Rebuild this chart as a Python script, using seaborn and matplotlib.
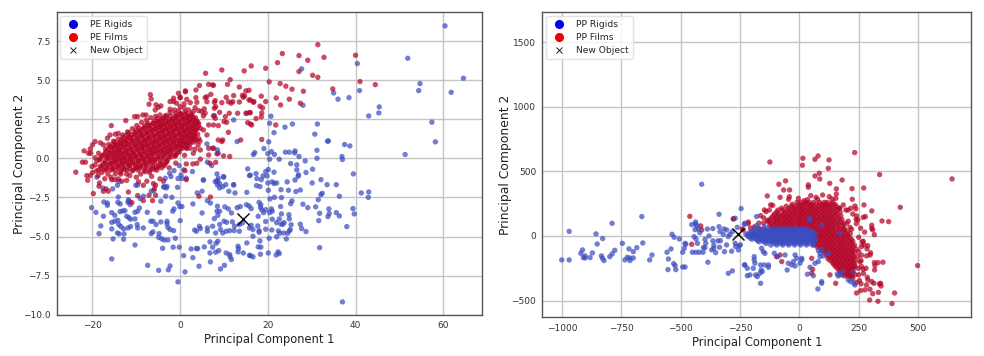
import matplotlib
matplotlib.use("Agg")
import matplotlib.pyplot as plt
from matplotlib.lines import Line2D
import pandas as pd
import seaborn as sns

pe_rigids = [(60.4,8.48),(51.9,6.41),(40.4,6.07),(27.7,5.73),(64.6,5.13),(54.7,4.79),(54.4,4.34),(61.8,4.23),(40.9,4.34),(35,4.19),(36,3.79),(38.5,3.89),(28,3.4),(45.4,3.3),(45.3,2.91),(43,2.72),(20.7,2.7),(57.4,2.32),(20.4,2.25),(25.6,2.2),(23.9,2),(31.3,2.2),(21.4,1.65),(30.7,1.55),(33.8,1.12),(33.6,1.1),(58.2,1.06),(20.2,1.06),(37.5,.89),(38.7,.8),(19.1,.63),(31.2,.52),(26.2,.48),(20.8,.44),(24,.4),(24.9,.4),(26.1,.35),(17,.37),(16.7,.25),(20,.31),(21.5,.25),(51.3,.25),(27.1,.12),(36.9,.12),(31.2,.01),(37,-.07),(20.4,-.05),(22.6,-.05),(28.5,-.16),(25.2,-.33),(26.6,-.41),(30.2,-.69),(26.6,-.73),(20.1,-.71),(19.5,-.84),(21.4,-.88),(28.7,-.9),(17.3,-.97),(16,-1.07),(18.9,-1.12),(19.8,-1.12),(27,-1.05),(26.9,-1.14),(39.5,-.99),
(17.5,-1.29),(18.5,-1.36),(20,-1.57),(21,-1.5),(21.4,-1.6),(22,-1.57),(24.4,-1.5),(26.2,-1.38),(30.1,-1.57),(32.1,-1.36),(33.5,-1.68),(35.6,-1.68),(17.4,-1.74),(18.2,-1.8),(20.1,-2.04),(23,-2),(24.7,-2.04),(26.4,-2.12),(27.4,-2.02),(32.4,-2.23),(32.1,-2.32),(36.3,-2.42),(41.3,-2.21),(43,-2.15),(42.9,-2.49),(20.5,-2.59),(21.5,-2.49),(23.1,-2.51),(25.5,-2.72),(25.2,-2.89),(31.5,-2.64),(28,-2.93),(29.1,-3.15),(30.9,-3.1),(33.9,-3.23),(18,-2.81),(18.4,-2.96),(18.3,-3.13),(22.9,-3.08),(19.5,-3.28),(20.8,-3.23),(21,-3.38),(20.4,-3.47),(18.6,-3.28),(19,-3.47),(16.2,-3.21),(39.4,-3.21),(39.7,-3.55),(35.6,-3.47),(36.3,-3.68),(31.8,-3.51),(34,-3.53),(33.7,-3.72),(31.6,-3.98),(23.1,-3.55),(24.8,-3.6),(24.9,-3.87),(17.8,-3.7),(21,-3.89),(22.6,-3.87),(19.5,-4.04),(22,-4.11),(23.7,-4.11),(23,-4.21),(23.4,-4.21),(25.3,-4.24),(27.4,-4.21),(38,-4.36),(17.7,-4.32),(16.2,-4.28),(19.5,-4.53),(20.9,-4.58),(22.4,-4.64),(25.1,-4.55),(24.9,-4.64),(27.7,-4.49),(28.7,-4.68),(16.6,-4.55),(18,-4.62),(18,-4.73),(22.7,-4.79),(23.6,-4.77),(24.5,-4.79),(16.6,-4.98),(20.3,-5.11),(22,-5.02),(24.2,-5.15),(18.2,-5.28),(17.8,-5.66),(18.4,-5.68),(31.8,-5.71),(20.1,-6.05),(22.3,-5.98),(22.6,-6.09),(21.9,-6.18),(18.3,-6.13),(16.6,-6.3),(16,-6.22),(37,-9.18),
(-20.2,-3.15),(-19.2,-3.45),(-17.5,-3.7),(-18.1,-4.32),(-18.5,-4.81),(-15.6,-4.51),(-15.3,-5.15),(-15.6,-6.43),(-17.4,-2.79),(-16.6,-2.85),(-16.6,-3),(-14.1,-2.47),(-14.2,-2.81),(-13.7,-2.91),(-15.6,-3.47),(-14.9,-3.64),(-13.7,-3.4),(-13.1,-3.36),(-12.6,-3.34),(-11.8,-2.64),(-11.6,-2.74),(-11.9,-2.81),(-11.4,-2.96),(-15.6,-4.09),(-14.9,-4.02),(-14.2,-3.96),(-14,-4.23),(-13.5,-4.36),(-14.3,-4.77),(-13.9,-4.83),(-12.9,-4.51),(-12.8,-4.83),(-12.9,-5.17),(-12.2,-3.7),(-11.7,-3.79),(-11.3,-3.89),(-10.3,-3.87),(-10.3,-3.45),(-9.7,-3.38),(-9.3,-3.17),(-11.9,-4.45),(-11.3,-4.36),(-9.8,-4.23),(-9.7,-4.45),(-8.4,-4.45),(-10.3,-5.54),(-7.5,-3.45),(-6.7,-4.02),(-6.2,-4.02),(-5.5,-4.23),(-6.2,-4.7),(-6.6,-4.81),(-4.7,-3.47),(-4.4,-4.06),(-3,-4.02),(-3,-4.17),(-2.8,-4.41),(-2.3,-4.55),(-1.5,-4.62),(-4.8,-4.81),(-4.9,-5.05),(-4.2,-5.15),(-3.6,-5.22),(-2.8,-5.22),(-1.1,-5.11),(-4,-5.75),(-1.6,-5.68),(-.2,-5.68),(.8,-6.22),(-7.4,-6.84),(-4.9,-7.16),(-2.3,-6.88),(-2.7,-7.13),(1.1,-7.26),(-.5,-7.9),(0,-3.98),(-1.4,-3.23),(-1.7,-3.38),(-.5,-2.85),(-.1,-3.08),(.4,-3.08),(-1.9,-2.49),(-3.3,-2.42),(-4.4,-2.74),(-6.6,-2.1),(-6,-2.06),(-8.4,-2.42),(-9.1,-2.57),(-3.2,-1.89),(-3.8,-1.83),(-.6,-1.85),(-10.1,-1.72),(-14.3,-1.72),(-15.4,-1.95),(2.9,-2.91),(5,-3.49),(7.8,-3.85),(6.2,-2.7),(6.9,-2.85),(8.5,-3.06),(8.4,-3.38),(9,-3.38),(8.6,-3.64),(10.2,-3.1),(11,-3.23),(11.7,-3.49),(13,-3.15),(13.7,-3.08),(15.1,-2.96),(15.7,-3.04),(3.9,-2.21),(5,-2.1),(9,-1.89),(8.4,-1.51),(9,-1.61),(10.4,-1.68),(11.1,-2.1),(12.5,-2.21),(15.2,-2.17),(12.2,-1.68),(3.3,-4.58),(3.7,-4.66),(4.4,-4.34),(4.6,-4.49),(6.2,-4.45),(6.2,-4.66),(7.4,-4.34),(8.1,-4.77),(9,-4.23),(10,-4.02),(10.6,-4.09),(9.2,-4.55),(9.7,-4.77),(10.5,-4.66),(11.3,-4.62),(12.3,-4.62),(11.9,-4.06),(12.4,-4.34),(13.5,-4.23),(14.2,-4.13),(13.5,-4.66),(15.8,-4.45),(6.8,-5.34),(8.6,-5.3),(8.2,-5.43),(5.5,-5.66),(2.5,-5.79),(3.7,-5.77),(4,-5.77),(7.4,-5.68),(6.8,-6.05),(8.1,-6),(8.8,-5.9),(2.9,-6.35),(4.3,-6.9),(6.9,-6.62),(9.2,-7.07),(10.1,-6.84),(10.5,-6.05),(11.3,-6.15),(11.7,-6.47),(11.4,-6.3),(13.2,-5.62),(13.3,-5.77),(13.2,-5.98),(14.4,-6.05),(15.2,-5.41),(15.8,-6.2),(-.5,-1.29),(.4,-1.29),(5.3,-1.38),(8.5,-1.42),
(6.1,.93),(7.4,.65),(8.5,.55),(8.7,.33),(6.2,-.24),(7.2,-.46),(8.4,-.99),(9.9,-1.16),(-.2,-.46),(-1.4,-.78),(-2.4,-.95),(.8,-.73),(2.8,-.84),(-2.1,-1.16),(7.8,2.74),(12.2,2.46),(15.2,2.89),(13,1.08),(1.5,.65),(15.4,-.67),(15.8,-1.1),(8.7,-1.27),(9.9,-1.2),(12.2,-1.7),(8,-1.48),(8.5,-1.7),(9.7,-1.8),(5.3,-1.38),(1.4,-1.27),(.2,-1.06),(-3.4,-1.27),(-14,-1.48),(-9.7,-1.7),(-3.6,-1.8),(-3,-1.8),(-17.6,-1.9),(-19,-1.2),(-4.6,2.2),(-8.5,.8)]

pe_films = [(31.4,7.28),(23.3,6.71),(27.1,6.58),(40,6.6),(29.1,6.28),(32.8,6.47),(22.2,6.13),(16.2,5.92),(19.5,5.77),(27.1,5.56),(30.2,5.32),(31.4,5.19),(20.3,4.9),(41,4.92),(44.5,4.72),(22.8,4.79),(24.1,4.62),(25.5,4.43),(28.1,4.3),(34.8,4.45),(18.5,3.98),(21.9,3.87),(24.9,3.79),(27.4,3.53),(19.5,3.64),(16.8,3.64),(16,3.74),(22.9,3.42),(18.2,3.34),(18.8,3.23),(18.6,2.91),(18.5,2.66),(17.3,2.55),(16,2.93),(16.3,2.14),(21.8,2.14),(18.6,1.21),
(5.8,5.45),(9.5,5.66),(11.4,5.04),(14.6,5.6),(10.8,4.74),(13.5,4.57),(6.5,4.74),(7.4,4.7),(7.6,4.68),(4.4,4.66),(3.6,4.38),(1.2,4.27),(7,4.1),(6.1,3.95),(5.7,3.89),(3.6,3.89),(1.5,3.78),(0,3.91),(10.5,3.91),(12.2,4.02),(14.2,4.04),(14.7,4),(15.7,4.36),(15,4.32),(14.4,3.91),(12,3.63),(11,3.63),(11.6,3.53),(9.5,3.57),(8,3.7),(7.8,3.59),(13.5,3.61),(15.7,3.74),(16.7,3.59),(6.1,3.63),(3.8,3.59),(3.4,3.25),(2.3,3.57),(.9,3.49),(0,3.31),(8.1,3.31),(7.8,3.21),(9,2.95),(11.2,2.89),(13.1,2.89),(15,2.89),(15.8,2.93),(5.5,3.17),(4.9,3),(4.2,3.06),(5.7,2.89),(3,3),(1.9,3.1),(.9,3.21),(7.6,2.72),(10.3,2.68),(8,2.57),(5.3,2.72),(10.6,2.31),(10,2.36),(15.4,2.29),(16,2.21),(11,1.67),(8.7,2.1),(7.6,2.14),(6.5,2.14),(5.3,1.82),(6.1,1.5),(4.2,2.25),(4.6,1.93),(13.8,1.18),(8.7,1.18),(9.7,1.18),(9.5,1.08),(7.6,.65),(6.5,.65),(4.6,.54),(3.4,.59),(2.3,.65),(3,.33),(1.5,.65),(6.5,.22),(8.4,.29),(9.9,.16),(11.3,.12),(4.6,-.05),(1.4,-.35),(8.1,-.25),(6.8,-.31),(3.8,-.31),(2.9,-.35),(1.1,-.78),
(-21.1,-1.4),(-18.4,-1.57),(-19.8,-2.25),(-18.5,-1.78),(-17.5,-2.1),(-16.9,-1.95),(-16.4,-2.1),(-15.6,-1.36),(-14.9,-1.36),(-14.1,-1.31),(-13.3,-1.46),(-12.2,-1.4),(-11.8,-2.15),(-11,-2.83),(-9.7,-2.38),(-8.4,-2.7),(-8.4,-1.72),(-7.6,-1.46),(-7.1,-2.36),(-6.3,-2.7),(-5.6,-2.36),(-6.1,-1.61),(-5.6,-1.72),(-5.9,-1.93),(-4.6,-1.31),(-3.8,-1.46),(1.4,-1.36),(4.3,-2.42),(6.9,-2.47),
(-6.8,4.08),(-6.6,3.81),(-7.1,3.47),(-5.5,3.43),(-5,3.27),(-4.4,3.36),(-5.7,3.1),(-12.4,2.42),(-15.7,2.1),(-10.4,2.68),(-9.7,2.68),(-8.5,2.78),(-7.8,2.78),(-4.6,2.78),(-2.3,3.15),(-1.5,3.85),(-.4,4.17),(0,3.89),(1.2,4.32),(-1.5,3.64),(-2.3,3.64),(-.8,3.53),(-19.4,1.08),(-20,.87),(-20.5,.61),(-21.9,.48),(-22.3,-.24),(-21.6,-.24),(-23.8,-.88),(-20.9,.33),(-20.4,.33),(-19.4,.05),(-18.6,.33),(-20.1,-.52),(-19.4,-.42),(-21.3,-1.1),(-20.5,-1.1),(-18.2,1),(-17.5,.87),(-16.6,1.29),(-16,1.5),(-14.8,1.55),(-14.1,1.6),
(-20,-.9),(-19.1,-.8),(-18.7,-1.1),(-18.2,-.5),(-18.4,-.1),(-17.9,-.9),(-17.6,.2),(-17.4,-.3),(-17.2,-1.3),(-17,.6),(-16.9,-.7),(-16.7,.05),(-16.5,-1),(-16.3,.9),(-16.2,.35),(-16,-.35),(-15.8,-1.2),(-15.6,.7),(-15.5,.1),(-15.4,-.7),(-15.2,1.1),(-15,.4),(-14.9,-.2),(-14.8,-1),(-14.6,.85),(-14.4,.15),(-14.3,-.5),(-14.1,1.25),(-14,.55),(-13.9,-.1),(-13.7,-.9),(-13.6,.95),(-13.4,.3),(-13.3,-.35),(-13.1,1.5),(-13,.75),(-12.9,.05),(-12.7,-.7),(-12.6,1.15),(-12.4,.45),(-12.3,-.2),(-12.2,-1),(-12,1.7),(-11.9,.9),(-11.8,.2),(-11.6,-.45),(-11.5,1.35),(-11.3,.6),(-11.2,-.05),(-11,-.8),(-10.9,1.9),(-10.8,1.1),(-10.7,.35),(-10.5,-.3),(-10.4,1.55),(-10.2,.8),(-10.1,.1),(-10,-.6),(-9.9,2.1),(-9.7,1.3),(-9.6,.55),(-9.5,-.15),(-9.3,1.75),(-9.2,1),(-9.1,.25),(-8.9,-.5),(-8.8,2.3),(-8.7,1.45),(-8.5,.7),(-8.4,0),(-8.3,1.95),(-8.1,1.15),(-8,.4),(-7.9,-.3),(-7.7,2.45),(-7.6,1.65),(-7.5,.85),(-7.3,.15),(-7.2,2.1),(-7.1,1.3),(-6.9,.55),(-6.8,-.15),(-6.7,2.6),(-6.5,1.8),(-6.4,1),(-6.3,.3),(-6.1,2.25),(-6,1.45),(-5.9,.7),(-5.7,-.05),(-5.6,2.7),(-5.5,1.95),(-5.3,1.15),(-5.2,.45),(-5.1,2.35),(-4.9,1.6),(-4.8,.85),(-4.7,.1),(-4.5,2.05),(-4.4,1.3),(-4.3,.55),(-4.1,2.5),(-4,1.75),(-3.9,1),(-3.7,.3),(-3.6,2.2),(-3.5,1.45),(-3.3,.7),(-3.2,2.75),(-3.1,1.9),(-2.9,1.15),(-2.8,.45),(-2.7,2.35),(-2.5,1.6),(-2.4,.85),(-2.3,2.95),(-2.1,2.05),(-2,1.3),(-1.9,.6),(-1.7,2.5),(-1.6,1.75),(-1.5,1),(-1.3,3.1),(-1.2,2.2),(-1.1,1.45),(-.9,.75),(-.8,2.7),(-.7,1.9),(-.5,1.15),(-.4,3.05),(-.3,2.35),(-.1,1.6),(0,.9),(.1,2.85),(.3,2.05),(.4,1.3),(.5,.65),(.7,2.55),(.8,1.75),(.9,1.05),(1.1,2.95),(1.2,2.2),(1.3,1.45),(1.5,.95),(1.6,2.65),(1.7,1.85),(1.9,1.2),(2,2.35),(2.1,1.55),(2.3,.95),(2.4,2.75),(2.5,2),(2.7,1.3),(2.8,2.45),(2.9,1.7),(3.1,1.05),(3.2,2.15),(3.3,1.4),(3.5,2.6),(3.6,1.85),(3.7,1.15),(3.9,2.3),(4,1.55),(4.1,.85),(4.3,1.25),(4.5,1.1),
(-13.5,-1),(-11.5,-1.1),(-10,-1.2),(-9,-1),(-8,-.85),(-7,-.9),(-6,-.7),(-5,-.55),(-4,-.4),(-3,-.2),(-2,.1),(-1,.2),(-1,-.3),(-.2,.4),(-6.5,-1.15),(-9.5,-1.5),(-2.5,-.6),(1,.2)]

# dense core of the PE films cloud, read row by row: pc2 -> pc1 values
pe_films_core = {
    -0.75: [-18.6,-17.3,-15.9,-14.7,-13.4,-12.1,-10.7,-9.6,-8.2,-6.9,-5.3],
    -0.6: [-18,-16.7,-15.4,-14.1,-13,-11.6,-10.3,-9.2,-7.8,-6.6,-5.6,-4.2],
    -0.45: [-17.7,-16.5,-15.3,-13.9,-12.7,-11.5,-10.1,-9,-7.7,-6.3,-4.9,-3.6],
    -0.3: [-17,-15.7,-14.5,-13.2,-12,-10.9,-9.6,-8.3,-7.1,-5.9,-4.6,-3.3],
    -0.15: [-19,-17.1,-15.8,-14.6,-13.3,-12,-10.9,-9.5,-8.3,-7,-5.8,-4.4,-3.1],
    0.0: [-18.2,-16.4,-15.1,-13.8,-12.7,-11.4,-10.1,-8.8,-7.7,-6.4,-5.2,-3.9,-2.7],
    0.15: [-17.9,-16.6,-15.2,-14,-12.6,-11.4,-10.3,-8.9,-7.6,-6.5,-5.1,-3.8,-2.6,-1.2],
    0.3: [-17.2,-15.9,-14.6,-13.4,-12.2,-10.9,-9.7,-8.4,-7.1,-5.9,-4.7,-3.4,-2.2,-.9],
    0.45: [-16.9,-15.6,-14.3,-13.2,-11.8,-10.6,-9.3,-8.1,-6.8,-5.7,-4.3,-3,-1.9,-.6],
    0.6: [-16.3,-15,-13.8,-12.5,-11.3,-10,-8.8,-7.5,-6.3,-5.1,-3.9,-2.6,-1.4,-.1],
    0.75: [-16,-14.8,-13.6,-12.3,-11,-9.8,-8.7,-7.3,-6.1,-4.9,-3.6,-2.3,-1,.2,1.2],
    0.9: [-15.3,-14.2,-12.9,-11.7,-10.4,-9.2,-8,-6.8,-5.6,-4.4,-3.1,-1.9,-.6,.6,1.8],
    1.05: [-14.9,-13.7,-12.5,-11.3,-10,-8.8,-7.6,-6.4,-5.3,-3.9,-2.8,-1.5,-.2,1,2.3],
    1.2: [-13.4,-12.2,-11,-9.7,-8.4,-7.3,-6.1,-4.8,-3.6,-2.4,-1.2,.1,1.2,2.5,3.4],
    1.35: [-13,-11.8,-10.6,-9.3,-8.1,-7,-5.7,-4.5,-3.3,-2.1,-.9,.4,1.6,2.8],
    1.5: [-12.2,-11.1,-9.8,-8.6,-7.4,-6.2,-5,-3.7,-2.5,-1.4,-.1,1.1,2.2,3.4],
    1.65: [-11.7,-10.3,-9.1,-7.9,-6.7,-5.4,-4.2,-3,-1.8,-.5,.7,1.9,3.1],
    1.8: [-10.1,-8.8,-7.5,-6.3,-5.1,-3.9,-2.7,-1.4,-.2,1,2.2,3.5],
    1.95: [-9.4,-8.2,-7,-5.8,-4.6,-3.4,-2.2,-1,.3,1.5,2.7,3.9],
    2.1: [-8,-6.8,-5.5,-4.3,-3.1,-1.8,-.6,.6,1.8,3,4.2],
    2.25: [-7.4,-6.2,-5,-3.8,-2.6,-1.4,-.2,1,2.2,3.4],
    2.4: [-5.8,-4.6,-3.3,-2.1,-.9,.3,1.5,2.7,3.8],
    2.55: [-5.2,-4,-2.9,-1.6,-.4,.8,2,3.1],
    2.7: [-3.4,-2.2,-.9,.4,1.7,2.8],
    2.85: [-1.1,.1,1.3,2.5],
}

new_object_pe = (14.3, -3.85)

pp_rigids = [(-411,400),(-969,36),(-856,16),(-788,98),(-663,150),(-828,-20),(-851,-62),(-913,-108),(-920,-134),(-871,-131),(-777,-111),(-788,-139),(-798,-160),(-902,-154),(-909,-167),(-902,-170),(-881,-167),(-833,-154),(-829,-172),(-822,-190),(-1000,-185),(-969,-185),(-745,-57),(-717,-100),(-684,-90),(-699,-121),(-659,-54),(-734,-185),(-724,-165),(-713,-170),(-713,-190),(-699,-170),(-630,-185),(-620,-147),(-557,-126),(-540,-100),(-551,-178),(-553,-260),(-520,-260),(-529,-214),(-523,-229),(-491,-240),(-481,-240),(-505,-23),(-536,13),(-527,-10),(-481,-57),(-478,-64),(-484,-95),(-491,-126),(-453,88),(-437,108),(-436,93),(-432,78),(-439,49),(-425,54),(-419,26),(-443,-5),(-435,-23),(-429,-57),(-450,-126),(-435,-126),(-421,-126),(-405,-126),(-404,-90),(-397,-90),(-394,-57),(-397,-26),(-387,54),(-364,57),(-380,0),(-364,-38),(-360,-72),(-343,-38),(-332,-36),(-338,72),(-338,168),(-334,34),(-317,54),(-306,47),(-320,13),(-299,-5),(-292,13),(-282,34),(-270,137),(-245,212),(-369,-108),(-352,-129),(-360,-95),(-336,-87),(-315,-121),(-306,-69),(-285,-118),(-385,-203),(-299,-289),(-282,-270),(-256,-108),(-270,-57),(-268,-82),(-254,-75),(-248,-69),(-261,67),(-231,90),(-231,-224),
(-180,150),(-180,80),(-147,72),(-230,98),(-163,-366),(-219,-307),(-208,-301),(-184,-301),(-177,-314),(-166,-289),(-156,-276),(-161,-263),(-130,-224),(-130,-242),(-147,-224),(-163,-224),(-190,-160),(-190,-185),(-187,-211),(-194,-250),(-229,-224),(-219,-250),(-152,-121),(-145,-134),(-159,-95),(-105,-134),(-91,-160),(-60,-147),(-51,-263),(-46,-211),(-25,-198),(-18,-147),(-11,-173),(3,-211),(10,-185),(-18,-232),(10,-173),(-32,-224),(34,-296),(59,-307),(45,-242),(66,-211),(80,-198),(87,-134),(87,-160),(101,-154),(122,-134),(80,-113),(94,-103),(78,-410),(94,-353),(94,-366),(160,-294),(164,-309),(175,-301),(185,-276),(206,-340),(216,-353),(230,-366),(234,-379),(227,-276),(171,21),(45,119),(42,137),(94,85)]

# dense band of the PP rigids cloud, read row by row: pc2 -> pc1 values
pp_rigids_core = {
    55: [-170,-150,-130,-112,-95,-78,-60,-43,-25,-8,10,28],
    45: [-190,-160,-140,-121,-103,-86,-69,-51,-34,-17,1,19,37],
    35: [-200,-182,-164,-146,-128,-110,-92,-74,-56,-38,-20,-2,16,34,52],
    25: [-210,-191,-173,-155,-137,-119,-101,-83,-65,-47,-29,-11,7,25,43,61],
    15: [-225,-205,-186,-168,-150,-132,-114,-96,-78,-60,-42,-24,-6,12,30,48,66],
    5: [-218,-195,-177,-159,-141,-123,-105,-87,-69,-51,-33,-15,3,21,39,57],
    -5: [-215,-196,-178,-160,-142,-124,-106,-88,-70,-52,-34,-16,2,20,38,56],
    -15: [-206,-187,-169,-151,-133,-115,-97,-79,-61,-43,-25,-7,11,29,47,63],
    -25: [-200,-182,-164,-146,-128,-110,-92,-74,-56,-38,-20,-2,16,34,52,68],
    -35: [-176,-155,-137,-119,-101,-83,-65,-47,-29,-11,7,25,43,60],
    -45: [-170,-150,-132,-114,-96,-78,-60,-42,-24,-6,12,30,48,64],
    -58: [-140,-105,-87,-69,-51,-33,-15,3,21,39,57],
    -70: [-120,-95,-70,-45,-20,5,30,55],
}

pp_films = [(-461,152),(-415,78),(-411,47),(-453,-64),(-277,132),(-240,54),(233,645),(15,601),(79,619),(66,593),(125,588),(-124,572),(13,547),(122,523),(338,475),(643,441),(84,485),(66,464),(86,441),(-58,426),(-86,400),(128,407),(180,433),(38,395),(38,377),(-66,356),(-41,356),(156,364),(222,366),(271,371),(98,317),(-81,299),(-135,310),(156,325),(154,291),(223,284),(-42,304),(-45,284),(126,304),(138,286),(70,299),(77,284),(48,312),(-4,291),(20,273),(34,281),(425,222),(272,240),(234,232),(238,209),(216,214),(196,201),(305,194),(-121,240),(-112,237),(-126,201),(-147,201),(-140,188),(-163,157),(269,144),(278,150),(241,155),(239,129),(246,124),(348,116),(376,111),(305,83),(305,59),(309,47),(316,10),(206,114),(199,98),(213,67),(220,52),(269,-41),(272,-69),(288,-75),(262,-82),(298,-147),(283,-154),(262,-149),(316,-206),(331,-206),(352,-203),(260,-191),(318,-229),(317,-263),(262,-237),(281,-250),(269,-258),(286,-319),(289,-340),(305,-353),(314,-366),(337,-371),(342,-366),(344,-387),(283,-379),(297,-412),(276,-417),(258,-423),(241,-441),(309,-446),(333,-436),(401,-441),(296,-495),(331,-505),(390,-523),(498,-229),(234,-237),(213,-314),(253,-345),(129,-301),(153,-366),(52,-289),(56,-258),(52,-173),(-81,-147),(-96,-160),(-74,-198),(-215,108),(-278,132),(-236,47),(-150,100),(-170,60),(-190,70),(-205,60),(-215,95),(-150,140),(-135,120),(-170,100),(185,240),(170,215),(205,200),(225,170),(240,95),(258,60),(275,30),(250,-10),(265,-45),(285,-100),(300,-130),(250,-120),(245,-160),(255,-200),(248,-250),(235,-300),(250,-300),(270,-290),(225,-330),(240,-360),(260,-370)]

# dense cloud of the PP films, read row by row: pc2 -> pc1 values
pp_films_core = {
    260: [-10,8,27,41,60,85,105,118,140],
    245: [-30,-2,17,35,52,73,95,112,130,150],
    230: [-55,-32,-15,5,22,44,58,80,97,115,133,155],
    215: [-75,-42,-22,-3,15,35,53,70,90,108,127,145,168],
    200: [-90,-70,-50,-30,-12,8,26,44,62,80,100,118,138,160],
    185: [-95,-60,-40,-21,-1,17,36,55,73,91,110,128,150,172],
    170: [-105,-85,-66,-47,-28,-10,10,27,45,65,82,102,120,138,158],
    155: [-110,-90,-72,-53,-35,-16,3,21,40,58,76,95,113,132,152,175],
    140: [-118,-97,-80,-60,-43,-25,-5,13,32,50,68,87,105,123,142,165],
    125: [-125,-103,-85,-65,-47,-30,-10,9,28,47,65,84,103,122,141,160,180],
    110: [-130,-108,-90,-70,-53,-35,-16,3,20,40,57,76,95,112,132,150,172],
    95: [-120,-100,-80,-61,-43,-25,-6,12,32,50,69,88,107,125,144,163,185],
    80: [-125,-105,-85,-67,-48,-30,-10,8,27,45,63,82,100,120,138,158,180],
    65: [-115,-97,-78,-60,-42,-24,-5,13,31,50,68,87,105,124,143,165,187],
    50: [-110,-92,-73,-55,-36,-18,0,18,37,55,73,92,110,127,148,170,190],
    35: [70,88,106,125,143,162,182,202],
    20: [65,82,100,118,137,155,175,195,215],
    5: [72,90,108,126,145,163,183,203],
    -10: [60,78,97,115,134,152,170,190,210],
    -25: [68,87,105,124,142,161,180,198,218],
    -40: [58,75,93,112,130,148,168,185,205,225],
    -55: [70,88,106,124,143,163,181,200,219],
    -70: [62,80,100,118,136,155,173,192,212,232],
    -85: [76,95,113,132,150,170,188,207,226],
    -100: [90,108,125,143,162,180,198,218,240],
    -115: [98,116,133,151,170,188,207,225],
    -130: [105,122,140,158,176,195,214,232],
    -145: [115,132,150,168,186,204,222],
    -160: [125,142,160,178,195,213,230],
    -175: [120,138,155,172,190,208,226],
    -190: [130,148,165,183,200,218,236],
    -205: [140,157,174,192,209,227],
    -220: [145,162,180,197,215,233],
    -235: [152,170,187,205,222],
    -250: [160,178,195,212,228],
    -265: [168,186,203,219],
    -280: [175,192,210,225],
    -295: [183,200,216],
    -310: [190,205,222],
}

new_object_pp = (-258, 15)

pe_xticks = [-20, 0, 20, 40, 60]
pe_yticks = [-10.0, -7.5, -5.0, -2.5, 0.0, 2.5, 5.0, 7.5]
pp_xticks = [-1000, -750, -500, -250, 0, 250, 500]
pp_yticks = [-500, 0, 500, 1000, 1500]


def frame(points, rows, label):
    pairs = list(points) + [(x, y) for y, xs in rows.items() for x in xs]
    df = pd.DataFrame(pairs, columns=["pc1", "pc2"])
    df["kind"] = label
    return df


def panel(ax, first, second, palette, new_obj, names, xticks, yticks, xlim, ylim, ypad):
    data = pd.concat([first, second], ignore_index=True)
    sns.scatterplot(data=data, x="pc1", y="pc2", hue="kind", palette=palette, hue_order=list(palette),
                    s=15, alpha=0.72, linewidth=0, legend=False, ax=ax, zorder=3)
    ax.scatter([new_obj[0]], [new_obj[1]], marker="x", s=75, c="black", linewidths=1.0, zorder=5)
    ax.set_xlim(*xlim)
    ax.set_ylim(*ylim)
    ax.set_xticks(xticks)
    ax.set_yticks(yticks)
    ax.grid(True, color="#c4c4c4", linewidth=1.0)
    ax.set_axisbelow(True)
    ax.tick_params(labelsize=6.5, length=2.5, width=0.7, pad=2, colors="#333333")
    ax.set_xlabel("Principal Component 1", fontsize=8.3, labelpad=2.5, color="#222222")
    ax.set_ylabel("Principal Component 2", fontsize=8.9, labelpad=ypad, color="#222222")
    for s in ax.spines.values():
        s.set_color("#555555")
        s.set_linewidth(1.0)
    handles = [
        Line2D([], [], ls="", marker="o", ms=5.5, color="#0000ee"),
        Line2D([], [], ls="", marker="o", ms=5.5, color="#ee0000"),
        Line2D([], [], ls="", marker="x", ms=4.5, color="#222222", mew=0.7),
    ]
    ax.legend(handles, names, loc="upper left", fontsize=6.6, frameon=True, framealpha=0.8,
              edgecolor="#dddddd", borderpad=0.45, labelspacing=0.42, handletextpad=0.95,
              handlelength=1.9, bbox_to_anchor=(0.0, 1.0), borderaxespad=0.4, fancybox=True)


sns.set_style("white")
fig = plt.figure(figsize=(9.84, 3.56), dpi=100)
ax1 = fig.add_axes([56.5 / 984, 1 - 314.7 / 356, (482.3 - 56.5) / 984, (314.7 - 12.3) / 356])
ax2 = fig.add_axes([542.3 / 984, 1 - 317.3 / 356, (971.3 - 542.3) / 984, (317.3 - 12.3) / 356])

panel(ax1, frame(pe_rigids, {}, "Rigids"), frame(pe_films, pe_films_core, "Films"),
      {"Rigids": "#3b4cc0", "Films": "#b40426"}, new_object_pe,
      ["PE Rigids", "PE Films", "New Object"], pe_xticks, pe_yticks, (-28.2, 68.9), (-10.0, 9.35), -2.5)
panel(ax2, frame(pp_films, pp_films_core, "Films"), frame(pp_rigids, pp_rigids_core, "Rigids"),
      {"Films": "#b40426", "Rigids": "#3b4cc0"}, new_object_pp,
      ["PP Rigids", "PP Films", "New Object"], pp_xticks, pp_yticks, (-1082, 724), (-629, 1730), -0.5)

fig.savefig("out.png", dpi=100)
